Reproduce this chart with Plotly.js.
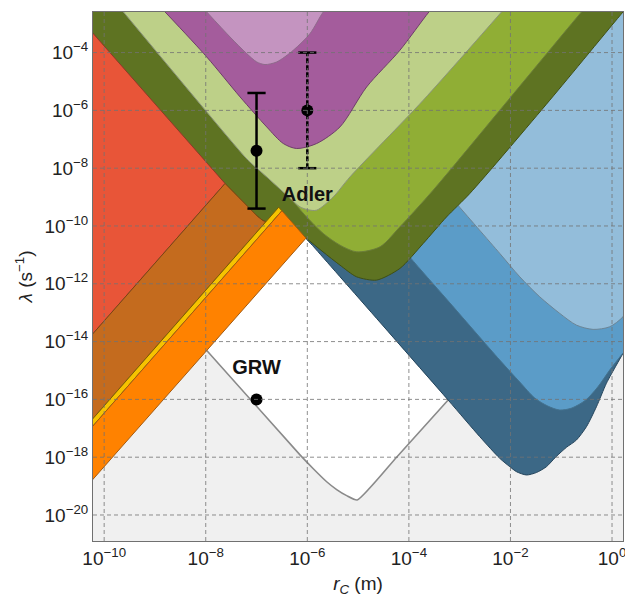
<!DOCTYPE html>
<html><head><meta charset="utf-8">
<script src="https://cdn.plot.ly/plotly-3.0.1.min.js"></script>
<style>html,body{margin:0;padding:0;background:#fff}#chart{width:625px;height:601px}</style>
</head><body><div id="chart"></div>
<script>
// ---- data: region boundaries, as log10(r_C / m) and log10(lambda / s^-1) ----
const grayLogR = [-10.5, -10.5, -7.98, -6.144, -5.882, -5.619, -5.422, -5.225, -5.017, -4.242, -3.227, -2.0, 0.5, 0.5];
const grayLogL = [-21.5, -19.32, -14.31, -17.92, -18.40, -18.85, -19.12, -19.33, -19.48, -18.00, -16.02, -14.0, -14.0, -21.5];
const grwLineLogR = [-7.98, -6.144, -5.882, -5.619, -5.422, -5.225, -5.017, -4.242, -3.227];
const grwLineLogL = [-14.31, -17.92, -18.40, -18.85, -19.12, -19.33, -19.48, -18.00, -16.02];

const darkBlueLogR = [-6.026, -6.026, -6.026, -5.9, -3.227, -2.603, -2.210, -2.013, -1.881, -1.684, -1.488, -1.291, -1.108, -0.897, -0.701, -0.504, -0.307, -0.111, 0.086, 0.216, 0.5, 0.5];
const darkBlueLogL = [-2.0, -10.2, -10.421, -10.67, -16.023, -17.292, -18.040, -18.329, -18.502, -18.616, -18.530, -18.329, -17.993, -17.658, -17.406, -16.946, -16.254, -15.445, -14.812, -14.408, -13.5, -2.0];

const midBlueLogR = [-4.57, -4.57, -3.98, -3.258, -2.21, -1.816, -1.521, -1.265, -1.029, -0.793, -0.518, -0.282, -0.046, 0.184, 0.5, 0.5];
const midBlueLogL = [-2.0, -9.799, -11.078, -12.53, -14.64, -15.401, -15.954, -16.231, -16.369, -16.300, -16.023, -15.574, -14.986, -14.467, -13.75, -2.0];

const lightBlueLogR = [-3.195, -3.063, -2.210, -1.816, -1.423, -1.029, -0.701, -0.374, -0.046, 0.216, 0.5, 0.5];
const lightBlueLogL = [-8.934, -9.221, -10.950, -11.759, -12.451, -13.025, -13.430, -13.578, -13.488, -13.142, -12.4, -2.0];

const darkGreenLogR = [-10.5, 0.514, 0.216, -1.226, -2.800, -3.258, -3.718, -4.177, -4.635, -5.029, -5.357, -5.692, -6.026, -6.341, -6.774, -6.872, -6.970, -7.620, -10.5];
const darkGreenLogL = [-2.0, -2.0, -2.596, -5.649, -8.875, -9.685, -10.604, -11.469, -11.873, -11.759, -11.355, -10.895, -10.421, -10.075, -9.885, -9.816, -9.685, -8.530, -2.775];

const midGreenLogR = [-9.918, -0.304, -0.602, -2.046, -3.522, -4.177, -4.570, -5.029, -5.357, -5.686, -6.046, -6.341, -6.793, -7.167, -7.462, -9.620];
const midGreenLogL = [-2.0, -2.0, -2.596, -5.649, -8.761, -10.030, -10.722, -10.895, -10.663, -10.259, -9.626, -9.038, -8.312, -7.724, -7.136, -2.596];

const lightGreenLogR = [-9.918, -1.878, -2.176, -3.718, -5.160, -5.489, -5.816, -5.987, -6.144, -6.341, -6.793, -7.167, -7.462, -9.620];
const lightGreenLogL = [-2.0, -2.0, -2.596, -5.649, -8.302, -8.993, -9.453, -9.437, -9.339, -9.038, -8.312, -7.724, -7.136, -2.596];

const purpleLogR = [-9.098, -3.308, -3.606, -4.177, -4.832, -5.357, -5.816, -6.209, -6.473, -6.799, -7.324, -7.980, -8.800];
const purpleLogL = [-2.0, -2.0, -2.596, -3.920, -5.189, -6.573, -7.147, -7.320, -7.147, -6.573, -5.535, -4.152, -2.596];

const lightPurpleLogR = [-8.28, -5.39, -5.686, -5.947, -6.276, -6.603, -6.833, -6.996, -7.193, -7.521, -7.980];
const lightPurpleLogL = [-2.0, -2.0, -2.596, -3.343, -3.920, -4.325, -4.415, -4.325, -4.035, -3.461, -2.596];

const redLogR = [-10.5, -7.62, -10.5];
const redLogL = [-2.775, -8.53, -14.284];

const brownLogR = [-10.5, -7.62, -6.97, -6.872, -6.813, -10.5];
const brownLogL = [-14.284, -8.53, -9.685, -9.816, -9.85, -17.224];

const yellowLogR = [-10.5, -6.563, -6.5, -10.5];
const yellowLogL = [-17.224, -9.349, -9.474, -17.479];

const orangeLogR = [-10.5, -6.5, -6.026, -10.5];
const orangeLogL = [-17.479, -9.474, -10.421, -19.32];

// proposed values
const adlerR = [1e-7, 1e-6];
const adlerL = [4e-8, 1e-6];
const adlerHi = [4e-6, 1e-4];
const adlerLo = [4e-10, 1e-8];
const grwR = [1e-7];
const grwL = [1e-16];

const labelText = ['<b>Adler</b>', '<b>GRW</b>'];
const labelR = [1e-6, 1e-7];
const labelL = [1.1e-9, 1.15e-15];

const xTickVals = [1e-10, 1e-8, 1e-6, 1e-4, 1e-2, 1];
const xTickText = ['10<sup>−10</sup>', '10<sup>−8</sup>', '10<sup>−6</sup>', '10<sup>−4</sup>', '10<sup>−2</sup>', '10<sup>0</sup>'];
const yTickVals = [1e-20, 1e-18, 1e-16, 1e-14, 1e-12, 1e-10, 1e-8, 1e-6, 1e-4];
const yTickText = ['10<sup>−20</sup>', '10<sup>−18</sup>', '10<sup>−16</sup>', '10<sup>−14</sup>', '10<sup>−12</sup>', '10<sup>−10</sup>', '10<sup>−8</sup>', '10<sup>−6</sup>', '10<sup>−4</sup>'];

// ---- build ----
const pow = a => a.map(v => Math.pow(10, v));
function region(lr, ll, fill, line, w, smooth) {
  const ln = {color: line, width: (w === undefined ? 1 : w)};
  if (smooth) { ln.shape = 'spline'; ln.smoothing = smooth; }
  return {type: 'scatter', mode: 'lines', x: pow(lr), y: pow(ll), fill: 'toself',
    fillcolor: fill, line: ln, hoverinfo: 'skip'};
}
const traces = [
  region(grayLogR, grayLogL, '#f0f0f0', 'rgba(0,0,0,0)', 0),
  {type: 'scatter', mode: 'lines', x: pow(grwLineLogR), y: pow(grwLineLogL), line: {color: '#8a8a8a', width: 1.6, shape: 'spline', smoothing: 0.5}, hoverinfo: 'skip'},
  region(darkBlueLogR, darkBlueLogL, '#3c6886', '#25455c', 1, 0.7),
  region(midBlueLogR, midBlueLogL, '#5b9cc8', '#44728f', 1, 0.8),
  region(lightBlueLogR, lightBlueLogL, '#93bdda', '#6c8596', 1, 0.8),
  region(darkGreenLogR, darkGreenLogL, '#5e7322', '#3f4f14', 1, 0.7),
  region(midGreenLogR, midGreenLogL, '#90ae35', '#6b7d3a', 1, 0.8),
  region(lightGreenLogR, lightGreenLogL, '#bdd088', '#8a937a', 1, 0.8),
  region(purpleLogR, purpleLogL, '#a45c9c', '#6e3d69', 1, 0.8),
  region(lightPurpleLogR, lightPurpleLogL, '#c494c0', '#8e6a8b', 1, 0.8),
  region(redLogR, redLogL, '#e85538', '#8c3a28'),
  region(brownLogR, brownLogL, '#c46b1e', '#7a4414'),
  region(yellowLogR, yellowLogL, '#f6c300', '#7d5e00'),
  region(orangeLogR, orangeLogL, '#ff8200', '#a35a10'),
  {type: 'scatter', mode: 'lines+markers', x: [adlerR[0], adlerR[0]], y: [adlerLo[0], adlerHi[0]],
    line: {color: '#000', width: 2.5}, marker: {symbol: 'line-ew', size: 13, line: {color: '#000', width: 2.5}}, hoverinfo: 'skip'},
  {type: 'scatter', mode: 'lines+markers', x: [adlerR[1], adlerR[1]], y: [adlerLo[1], adlerHi[1]],
    line: {color: '#000', width: 2.5, dash: '5px,2px'}, marker: {symbol: 'line-ew', size: 13, line: {color: '#000', width: 2.5}}, hoverinfo: 'skip'},
  {type: 'scatter', mode: 'markers', x: adlerR, y: adlerL, marker: {color: '#000', size: 12}, hoverinfo: 'skip'},
  {type: 'scatter', mode: 'markers', x: grwR, y: grwL, marker: {color: '#000', size: 12}, hoverinfo: 'skip'},
  {type: 'scatter', mode: 'text', x: labelR, y: labelL, text: labelText,
    textfont: {family: 'Liberation Sans, Arial, sans-serif', size: 20, color: '#111'}, hoverinfo: 'skip'}
];

const shapes = [];
xTickVals.forEach(v => shapes.push({type: 'line', layer: 'above', xref: 'x', yref: 'paper', x0: v, x1: v, y0: 0, y1: 1,
  line: {color: 'rgba(115,115,115,0.8)', width: 1, dash: '4px,3px'}}));
yTickVals.forEach(v => shapes.push({type: 'line', layer: 'above', xref: 'paper', yref: 'y', x0: 0, x1: 1, y0: v, y1: v,
  line: {color: 'rgba(115,115,115,0.8)', width: 1, dash: '4px,3px'}}));

const font = 'Liberation Sans, Arial, sans-serif';
const layout = {
  width: 625, height: 601,
  margin: {l: 93, r: 2, t: 12, b: 60},
  paper_bgcolor: '#ffffff', plot_bgcolor: '#ffffff',
  showlegend: false,
  font: {family: font, color: '#222'},
  xaxis: {type: 'log', range: [-10.22, 0.216], tickvals: xTickVals, ticktext: xTickText,
    showgrid: false, zeroline: false, showline: true, mirror: true, linecolor: '#707070', linewidth: 1,
    ticks: '', ticklabeloverflow: 'allow', tickfont: {family: font, size: 19, color: '#222'},
    title: {text: '<i>r</i><sub><i>C</i></sub> (m)', font: {family: font, size: 19, color: '#222'}, standoff: 8}},
  yaxis: {type: 'log', range: [-20.9, -2.596], tickvals: yTickVals, ticktext: yTickText,
    showgrid: false, zeroline: false, showline: true, mirror: true, linecolor: '#707070', linewidth: 1,
    ticks: '', ticklabeloverflow: 'allow', tickfont: {family: font, size: 19, color: '#222'},
    title: {text: '<i>λ</i> (s<sup>−1</sup>)', font: {family: font, size: 19, color: '#222'}, standoff: 6}},
  shapes: shapes
};

Plotly.newPlot('chart', traces, layout, {displayModeBar: false, staticPlot: true});
</script>
</body></html>
